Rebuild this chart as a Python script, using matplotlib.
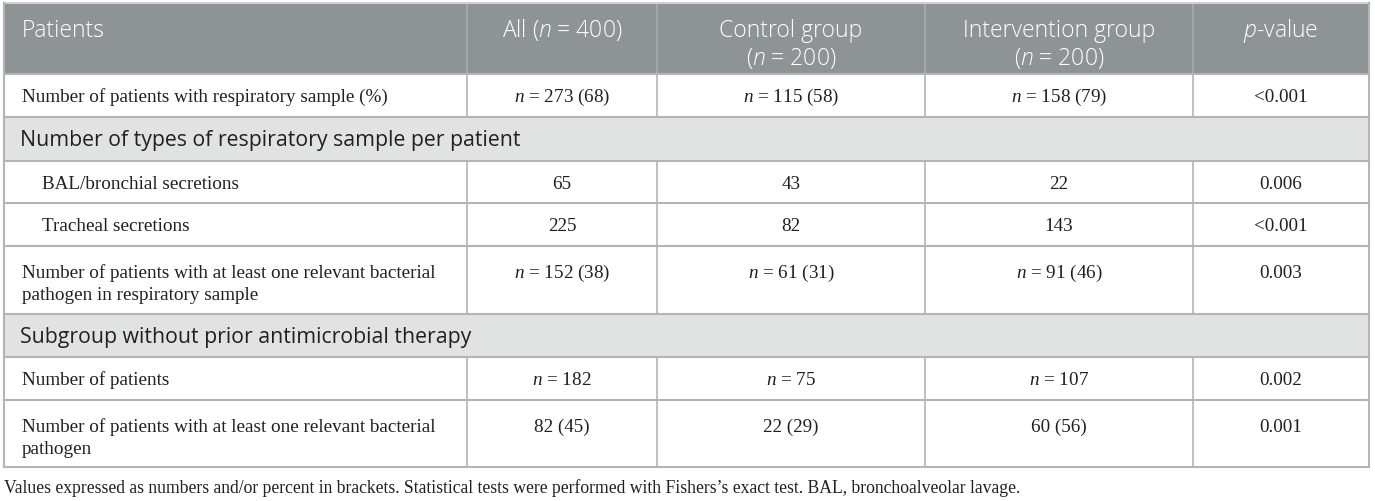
import matplotlib
matplotlib.use("Agg")
import matplotlib.pyplot as plt
from matplotlib.patches import Rectangle

plt.rcParams['mathtext.fontset'] = 'custom'
plt.rcParams['mathtext.rm'] = 'Liberation Serif'
plt.rcParams['mathtext.it'] = 'Liberation Serif:italic'
plt.rcParams['mathtext.sf'] = 'Open Sans:italic:light'

# table content
headers = ["Patients", "All ($\\mathsf{n}$ = 400)", "Control group\n($\\mathsf{n}$ = 200)",
           "Intervention group\n($\\mathsf{n}$ = 200)", "$\\mathsf{p}$-value"]

row_labels = [
    "Number of patients with respiratory sample (%)",
    "Number of types of respiratory sample per patient",
    "BAL/bronchial secretions",
    "Tracheal secretions",
    "Number of patients with at least one relevant bacterial\npathogen in respiratory sample",
    "Subgroup without prior antimicrobial therapy",
    "Number of patients",
    "Number of patients with at least one relevant bacterial\npathogen",
]
row_kind = ["data", "section", "indent", "indent", "data", "section", "data", "data"]

all_vals = ["$n$ = 273 (68)", "", "65", "225", "$n$ = 152 (38)", "", "$n$ = 182", "82 (45)"]
control_vals = ["$n$ = 115 (58)", "", "43", "82", "$n$ = 61 (31)", "", "$n$ = 75", "22 (29)"]
interv_vals = ["$n$ = 158 (79)", "", "22", "143", "$n$ = 91 (46)", "", "$n$ = 107", "60 (56)"]
p_vals = ["<0.001", "", "0.006", "<0.001", "0.003", "", "0.002", "0.001"]

footnote = ("Values expressed as numbers and/or percent in brackets. Statistical tests were "
            "performed with Fishers\u2019s exact test. BAL, bronchoalveolar lavage.")

# layout in pixels
col_x = [4, 467, 657, 925, 1193, 1369]
row_y = [4, 75, 118, 162, 204, 247, 315, 358, 401, 468]

head_bg = "#8e9396"
sect_bg = "#e1e3e2"
line_col = "#b4b4b4"
txt_col = "#231f20"
serif = "Liberation Serif"
sans = "Open Sans"
body_fs = 13.8
head_fs = 16.5
sect_fs = 15.3
line_gap = 22

fig = plt.figure(figsize=(13.75, 5.02), dpi=100)
ax = fig.add_axes([0, 0, 1, 1])
ax.set_xlim(0, 1375)
ax.set_ylim(502, 0)
ax.axis("off")

# header
ax.add_patch(Rectangle((col_x[0], row_y[0]), col_x[-1] - col_x[0], row_y[1] - row_y[0],
                       facecolor=head_bg, edgecolor="none"))
for x in col_x[1:-1]:
    ax.plot([x, x], [row_y[0], row_y[1]], color="#a9adaf", lw=1.2)
for i, h in enumerate(headers):
    for k, part in enumerate(h.split("\n")):
        yb = row_y[0] + 33 + 28 * k
        if i == 0:
            ax.text(col_x[0] + 18, yb, part, family=sans, fontsize=head_fs, color="white",
                    weight="light", ha="left", va="baseline")
        else:
            cx = (col_x[i] + col_x[i + 1]) / 2
            ax.text(cx, yb, part, family=sans, fontsize=head_fs, color="white",
                    weight="light", ha="center", va="baseline")

# body rows
for r, label in enumerate(row_labels):
    top = row_y[r + 1]
    bot = row_y[r + 2]
    kind = row_kind[r]
    if kind == "section":
        ax.add_patch(Rectangle((col_x[0], top), col_x[-1] - col_x[0], bot - top,
                               facecolor=sect_bg, edgecolor="none"))
        ax.text(col_x[0] + 16, top + 28, label, family=sans, fontsize=sect_fs,
                color=txt_col, ha="left", va="baseline")
        continue
    lines = label.split("\n")
    yb = top + (27 if len(lines) == 1 else 31)
    xoff = 38 if kind == "indent" else 18
    for k, part in enumerate(lines):
        ax.text(col_x[0] + xoff, yb + line_gap * k, part, family=serif, fontsize=body_fs,
                color=txt_col, ha="left", va="baseline")
    vals = [all_vals[r], control_vals[r], interv_vals[r], p_vals[r]]
    for c, v in enumerate(vals):
        cx = (col_x[c + 1] + col_x[c + 2]) / 2
        ax.text(cx, yb, v, family=serif, fontsize=body_fs, color=txt_col,
                ha="center", va="baseline")
    for x in col_x[1:-1]:
        ax.plot([x, x], [top, bot], color=line_col, lw=1.2)

# horizontal rules and outer border
for y in row_y[1:]:
    ax.plot([col_x[0], col_x[-1]], [y, y], color=line_col, lw=1.5)
ax.plot([col_x[0], col_x[-1]], [row_y[0], row_y[0]], color="#d0d0d0", lw=1.5)
for x in (col_x[0], col_x[-1]):
    ax.plot([x, x], [row_y[0], row_y[-1]], color=line_col, lw=1.5)

ax.text(col_x[0], 493, footnote, family=serif, fontsize=12.7, color=txt_col,
        ha="left", va="baseline")

fig.savefig("out.png", dpi=100)
